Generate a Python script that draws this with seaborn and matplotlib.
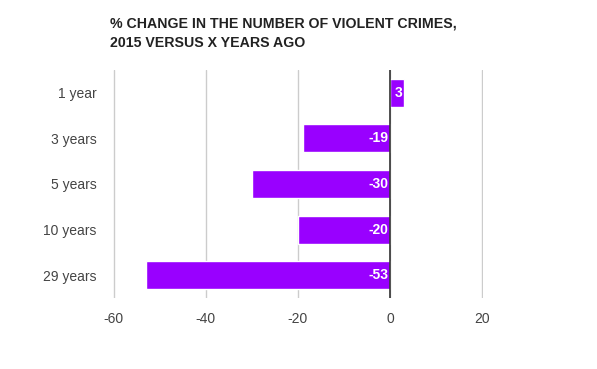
import numpy as np
import pandas as pd
import seaborn as sns
from matplotlib import pyplot as plt

periods = ['1 year', '3 years', '5 years', '10 years', '29 years']
pct_change = [3, -19, -30, -20, -53]
x_ticks = [-60, -40, -20, 0, 20]

df = pd.DataFrame({'period': periods, 'change': pct_change})

sns.set_style('white')
plt.rcParams['font.family'] = ['Liberation Sans', 'DejaVu Sans']

fig = plt.figure(figsize=(5.97, 3.69), dpi=100)
ax = fig.add_axes([113 / 597, 1 - 298 / 369, 370 / 597, 228 / 369])

sns.barplot(data=df, x='change', y='period', order=periods, color='#9900ff',
            saturation=1, width=0.61, orient='h', ax=ax)

ax.set_xlim(-60.15, 20.15)
ax.set_ylim(4.5, -0.5)
ax.set_xticks(x_ticks)
ax.set_xticklabels([str(t) for t in x_ticks])
ax.grid(axis='x', color='#cccccc', lw=1)
ax.set_axisbelow(True)
ax.axvline(0, color='#333333', lw=1.2, zorder=3)
for s in ax.spines.values():
    s.set_visible(False)
ax.tick_params(axis='both', length=0, labelsize=10, colors='#444444')
ax.tick_params(axis='x', pad=10)
ax.tick_params(axis='y', pad=12)
ax.set_xlabel('')
ax.set_ylabel('')

for i, v in enumerate(pct_change):
    ax.text(max(v, 0) - 0.4, i, str(v), ha='right', va='center',
            color='white', fontsize=10, fontweight='bold', zorder=4)

title_lines = ['% CHANGE IN THE NUMBER OF VIOLENT CRIMES,', '2015 VERSUS X YEARS AGO']
for k, line in enumerate(title_lines):
    fig.text(110 / 597, 1 - (23 + 20 * k) / 369, line, ha='left', va='center',
             fontsize=10.2, fontweight='bold', color='#222222')

fig.savefig('out.png', dpi=100)
